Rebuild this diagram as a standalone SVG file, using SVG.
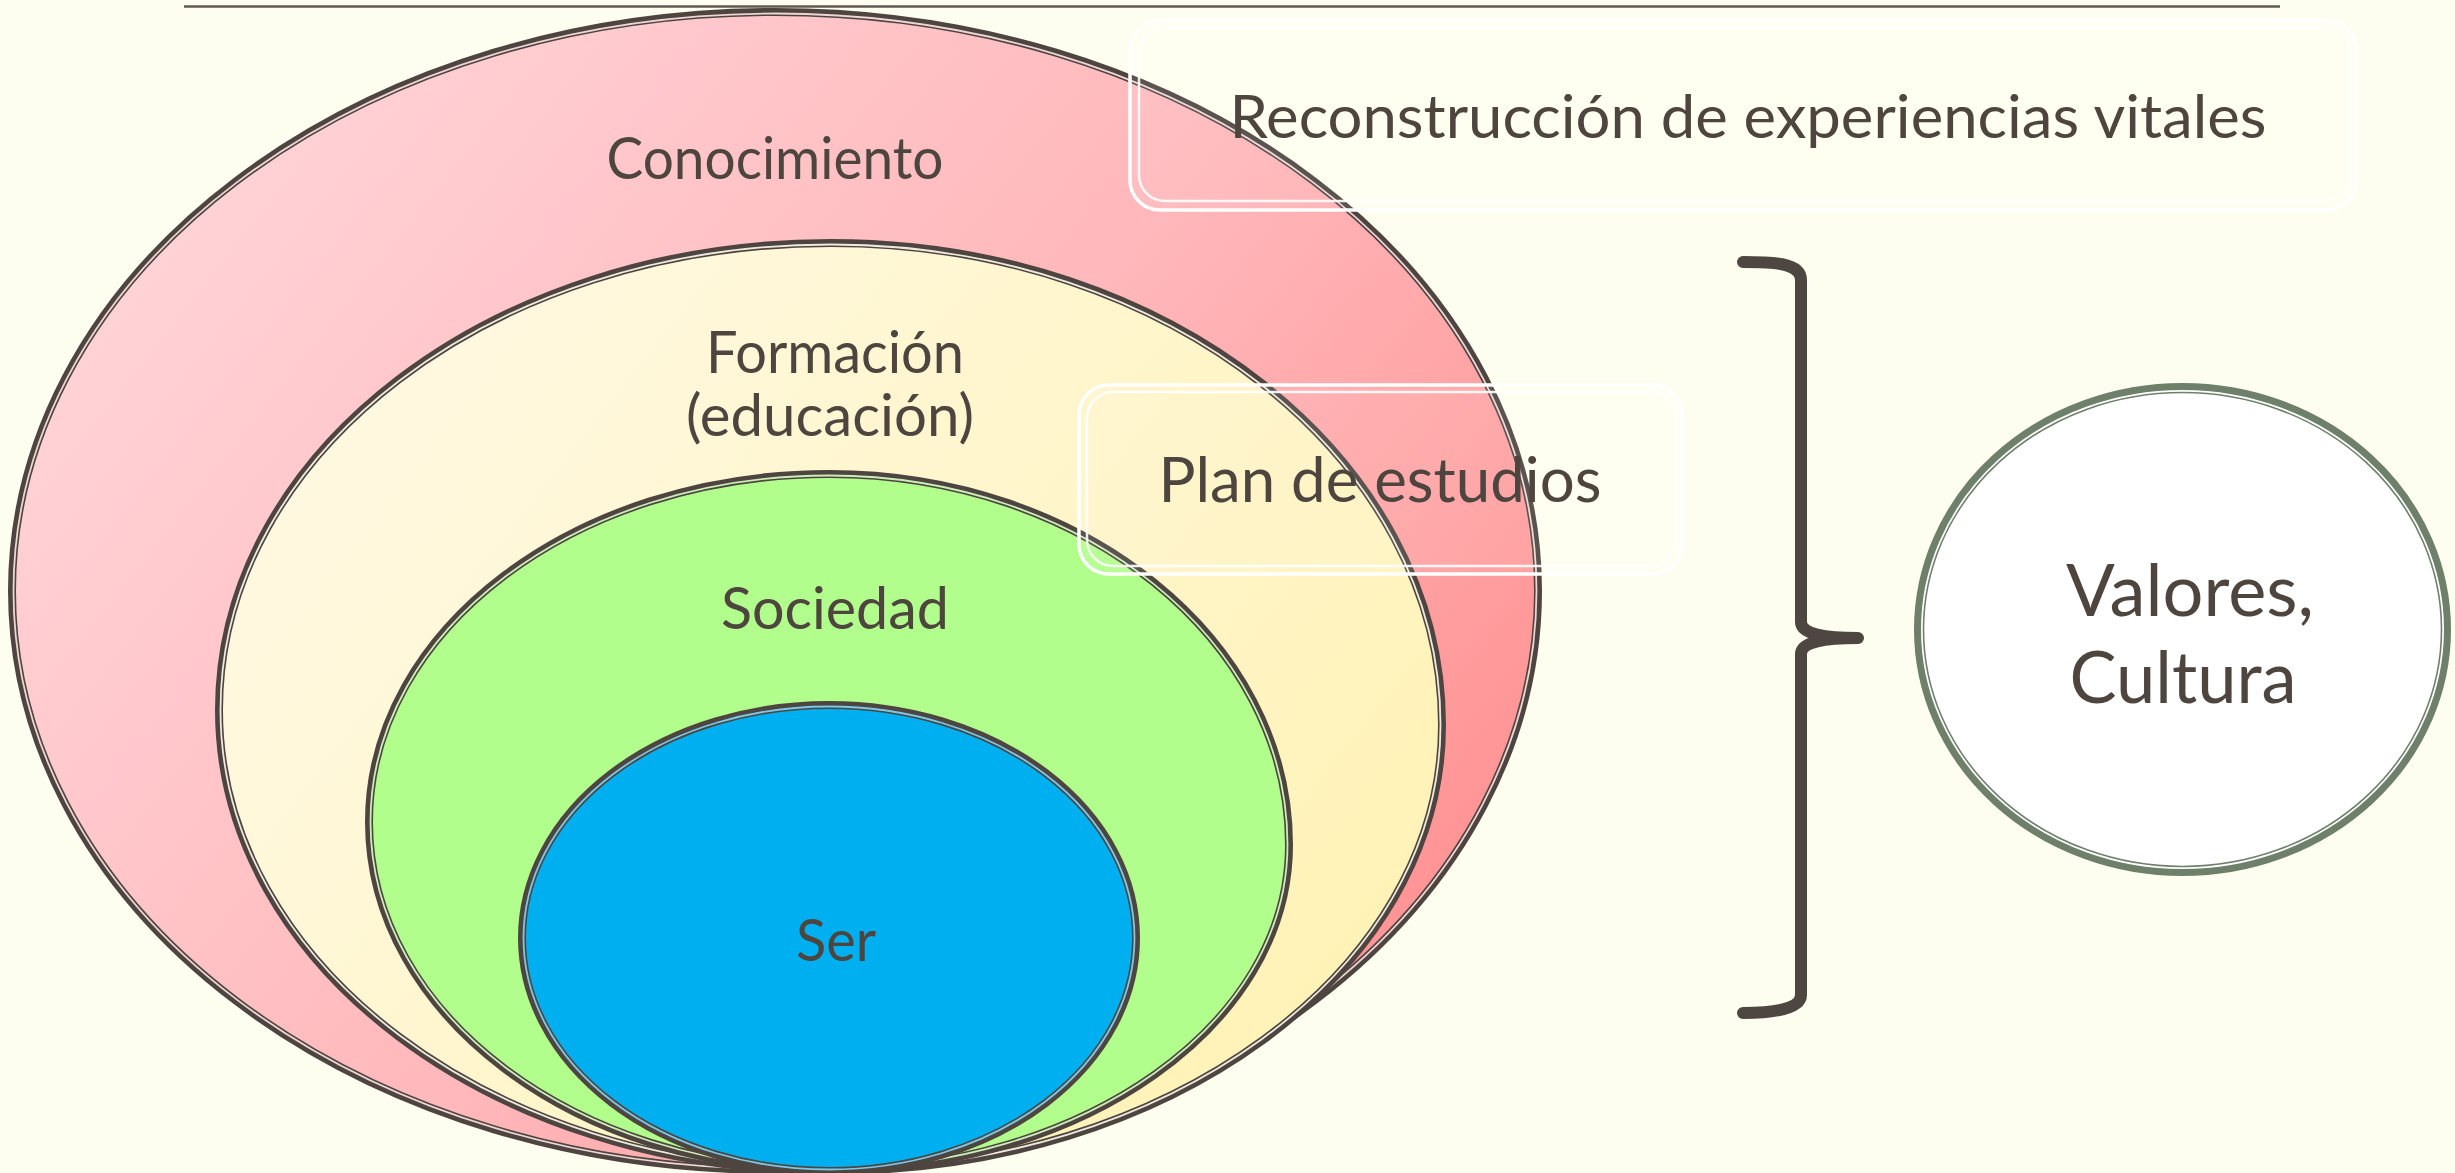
<svg xmlns="http://www.w3.org/2000/svg" width="2455" height="1173" viewBox="0 0 2455 1173">
<defs>
<linearGradient id="gPink" x1="0" y1="0.2" x2="1" y2="0.8">
<stop offset="0" stop-color="#FFD6DA"/>
<stop offset="0.55" stop-color="#FFB7BA"/>
<stop offset="1" stop-color="#FF8E8E"/>
</linearGradient>
<linearGradient id="gCream" x1="0" y1="0.2" x2="1" y2="0.8">
<stop offset="0" stop-color="#FFF9E4"/>
<stop offset="1" stop-color="#FFF2B4"/>
</linearGradient>
<style>
.ring{stroke:#4E4540;stroke-width:8}
.gap{fill:none;stroke-width:1.8;stroke-opacity:0.9}
.lbl{font-family:Lato,"Liberation Sans",Arial,sans-serif;fill:#4E453F;text-anchor:middle}
.box{fill:#FFFFFF;fill-opacity:0.08;stroke:#FFFFFF;stroke-width:3.5}
.box2{fill:none;stroke:#FFFFFF;stroke-width:2.5;stroke-opacity:0.9}
</style>
</defs>
<rect x="0" y="0" width="2455" height="1173" fill="#FEFEF0"/>
<line x1="184" y1="6.5" x2="2280" y2="6.5" stroke="#5F5750" stroke-width="2.5"/>

<g id="node-conocimiento">
<ellipse cx="775" cy="591" rx="763" ry="579" fill="url(#gPink)" class="ring"/>
<ellipse cx="775" cy="591" rx="761.5" ry="577.5" class="gap" stroke="#FFE4E6"/>
<text class="lbl" x="775" y="179" font-size="58" textLength="337" lengthAdjust="spacingAndGlyphs">Conocimiento</text>
</g>

<g id="node-formacion">
<path d="M831 243 C1168.5 243 1442 459 1442 725 C1442 971 1168 1171 830 1171 C492.5 1171 219 964.6 219 710 C219 452 493 243 831 243 Z" fill="url(#gCream)" class="ring"/>
<path d="M831 243 C1168.5 243 1442 459 1442 725 C1442 971 1168 1171 830 1171 C492.5 1171 219 964.6 219 710 C219 452 493 243 831 243 Z" class="gap" stroke="#FFFCEE" transform="translate(830 707) scale(0.99755 0.99677) translate(-830 -707)"/>
<text class="lbl" x="835" y="373" font-size="58" textLength="258" lengthAdjust="spacingAndGlyphs">Formación</text>
<text class="lbl" x="830" y="436" font-size="58" textLength="288" lengthAdjust="spacingAndGlyphs">(educación)</text>
</g>

<g id="node-sociedad">
<path d="M829 474 C1083 474 1289 640 1289 845 C1289 1025 1083 1170 829 1170 C575 1170 369 1014 369 822 C369 630 575 474 829 474 Z" fill="#B1FE8C" class="ring"/>
<path d="M829 474 C1083 474 1289 640 1289 845 C1289 1025 1083 1170 829 1170 C575 1170 369 1014 369 822 C369 630 575 474 829 474 Z" class="gap" stroke="#D9FFC6" transform="translate(829 822) scale(0.99674 0.99569) translate(-829 -822)"/>
<text class="lbl" x="835" y="629" font-size="58" textLength="228" lengthAdjust="spacingAndGlyphs">Sociedad</text>
</g>

<g id="node-ser">
<ellipse cx="829" cy="938" rx="307" ry="233" fill="#00AFEF" class="ring"/>
<ellipse cx="829" cy="938" rx="305.5" ry="231.5" class="gap" stroke="#7FD6F7"/>
<text class="lbl" x="836" y="961" font-size="58" textLength="80" lengthAdjust="spacingAndGlyphs">Ser</text>
</g>

<g id="node-reconstruccion">
<rect x="1130" y="21" width="1227" height="189" rx="30" class="box"/>
<rect x="1139" y="28" width="1212" height="173" rx="26" class="box2"/>
<text class="lbl" x="1748" y="138" font-size="60" textLength="1037" lengthAdjust="spacingAndGlyphs">Reconstrucción de experiencias vitales</text>
</g>

<g id="node-plan">
<rect x="1079" y="385" width="603" height="189" rx="30" class="box"/>
<rect x="1087" y="392" width="589" height="174" rx="26" class="box2"/>
<text class="lbl" x="1380" y="502" font-size="62" textLength="443" lengthAdjust="spacingAndGlyphs">Plan de estudios</text>
</g>

<g id="node-valores">
<ellipse cx="2182.5" cy="629.5" rx="265" ry="243" fill="#FFFFFF" stroke="#6E806A" stroke-width="7"/>
<ellipse cx="2182.5" cy="629.5" rx="259" ry="237" fill="none" stroke="#6E806A" stroke-width="1.6"/>
<text class="lbl" x="2190" y="616" font-size="72" textLength="248" lengthAdjust="spacingAndGlyphs">Valores,</text>
<text class="lbl" x="2183" y="703" font-size="72" textLength="227" lengthAdjust="spacingAndGlyphs">Cultura</text>
</g>

<g id="connectors">
<path d="M1743 262 C1770 262 1801 262 1801 280 L1801 622 C1801 634 1825 638 1858 638 C1825 638 1801 642 1801 654 L1801 995 C1801 1010 1770 1013 1743 1013" fill="none" stroke="#4E4640" stroke-width="12" stroke-linecap="round" stroke-linejoin="round"/>
</g>
</svg>
